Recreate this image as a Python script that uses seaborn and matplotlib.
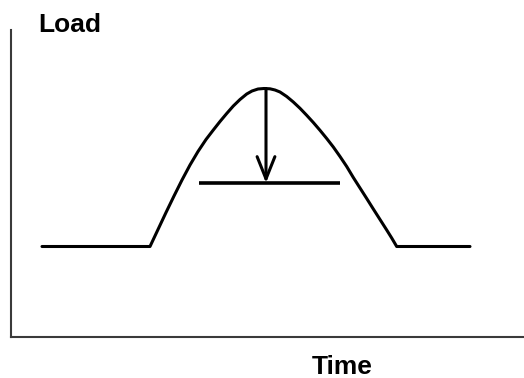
import matplotlib
matplotlib.use("Agg")
import matplotlib.pyplot as plt
import seaborn as sns
import pandas as pd

# Data (arbitrary units)
time = [31, 139, 147, 155, 163, 171, 179, 187, 195, 202.3, 209, 215.7, 222.3, 229,
        235.7, 241, 247, 253, 259, 264, 269, 275.7, 282.3, 289, 295.7, 302.3, 309,
        315.7, 322.3, 329, 335.7, 342.3, 349, 355.7, 362.3, 369, 375.7, 380.7, 385.7, 459]
load = [90.5, 90.5, 107.5, 124.5, 141, 157, 172, 185.5, 197.5, 207, 215.5, 223.5, 231,
        237.5, 243, 246, 248, 248.5, 248.2, 247, 245, 240.5, 235, 228.7, 221.7, 214.5,
        206.7, 198.5, 190, 180.5, 170.5, 159.5, 149, 138.5, 128, 117.5, 107, 99, 90.5, 90.5]
threshold_load = 154
threshold_start, threshold_end = 188, 329
peak_time, peak_load = 255, 248.5

sns.set_style("white")
plt.rcParams['font.family'] = ['Liberation Sans', 'DejaVu Sans']

fig = plt.figure(figsize=(5.24, 3.78), dpi=100)
ax = fig.add_axes([11 / 524, 41 / 378, 513 / 524, 307.5 / 378])

df = pd.DataFrame({"Time": time, "Load": load})
sns.lineplot(data=df, x="Time", y="Load", ax=ax, sort=False, estimator=None,
             color="black", lw=2.2, solid_joinstyle="round")

ax.plot([threshold_start, threshold_end], [threshold_load, threshold_load],
        color="black", lw=2.6, solid_capstyle="butt")

ax.annotate("", xy=(peak_time, threshold_load), xytext=(peak_time, peak_load),
            arrowprops=dict(arrowstyle="->,head_length=0.8,head_width=0.32",
                            color="black", lw=2.2, mutation_scale=20,
                            shrinkA=0, shrinkB=0))

ax.set_xlim(0, 513)
ax.set_ylim(0, 307.5)
ax.set_xticks([])
ax.set_yticks([])
ax.set_xlabel("")
ax.set_ylabel("")
for s in ["top", "right"]:
    ax.spines[s].set_visible(False)
for s in ["left", "bottom"]:
    ax.spines[s].set_color("#3a3a3a")
    ax.spines[s].set_linewidth(1.5)

fig.text(38 / 524, (378 - 32) / 378, "Load", fontsize=19, fontweight="bold",
         color="black", ha="left", va="baseline")
fig.text(342 / 524, (378 - 374) / 378, "Time", fontsize=19, fontweight="bold",
         color="black", ha="center", va="baseline")

fig.savefig("out.png", dpi=100)
